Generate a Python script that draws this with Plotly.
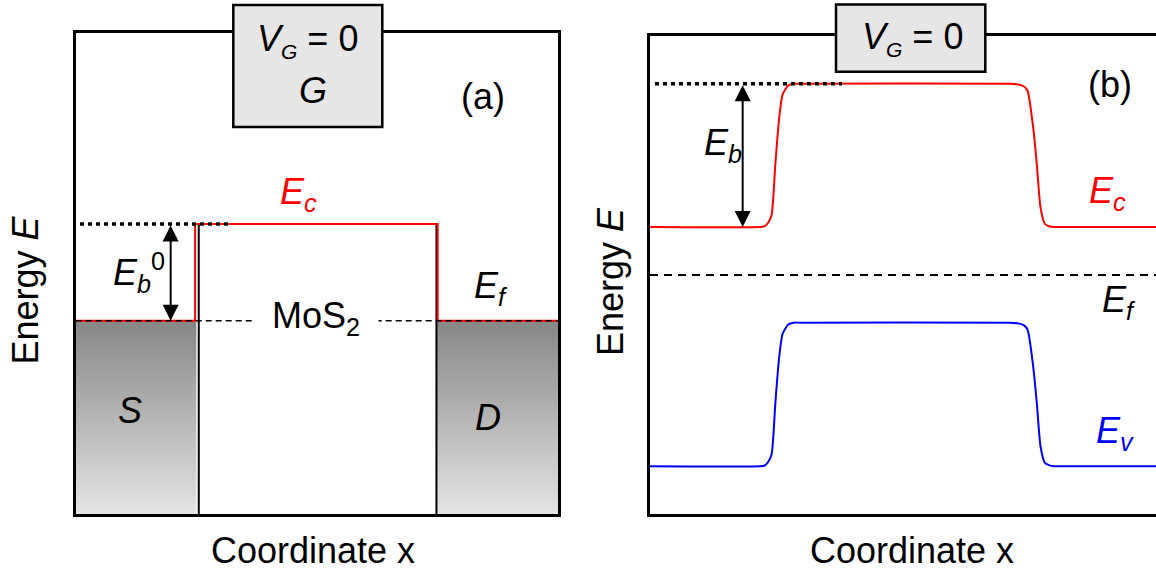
import plotly.graph_objects as go

# ---------------- data ----------------
# Panel (a): ideal abrupt contacts, V_G = 0 (energies in units of Eb0)
x_a_Ec = [0.0, 0.99, 0.99, 3.0, 3.0, 4.0]
Ec_a = [0.0, 0.0, 1.0, 1.0, 0.0, 0.0]
Ef_a = 0.0
Eb0 = 1.0
x_S = [0.0, 1.0]
x_D = [2.99, 4.0]
x_walls = [1.02, 2.99]

# Panel (b): smooth band profile, V_G = 0
x_b = [0, 0.912, 0.947, 0.978, 1.008, 1.039, 1.069, 1.099, 1.146, 1.191, 1.243,
       2.984, 3.054, 3.100, 3.130, 3.176, 3.206, 3.237, 3.273, 3.307, 3.344, 3.398, 4.194]
Ec_b = [0.335, 0.335, 0.339, 0.363, 0.419, 0.775, 1.082, 1.259, 1.323, 1.335, 1.335,
        1.335, 1.330, 1.316, 1.285, 1.030, 0.775, 0.470, 0.356, 0.340, 0.335, 0.335, 0.335]
Ev_b = [-1.336, -1.336, -1.332, -1.308, -1.252, -0.895, -0.588, -0.411, -0.346, -0.333, -0.333,
        -0.333, -0.338, -0.352, -0.383, -0.638, -0.893, -1.198, -1.312, -1.328, -1.336, -1.336, -1.336]
Ef_b = 0.0

# ---------------- layout helpers ----------------
W, H = 1156, 571
FONT = "Liberation Sans, Arial, sans-serif"


def px(x):
    return x / W


def py(y):
    return 1 - y / H


ya_min, ya_max = -2.0, 2.98
xa_min, xa_max = 0.0, 4.0
yb_min, yb_max = -1.667, 1.671
xb_min, xb_max = 0.0, 4.194

fig = go.Figure()

# ---- panel (a) ----
grad = dict(type="vertical", colorscale=[[0, "#e4e4e4"], [1, "#868686"]])
for xs in (x_S, x_D):
    fig.add_trace(go.Scatter(
        x=[xs[0], xs[1], xs[1], xs[0], xs[0]],
        y=[ya_min, ya_min, Ef_a, Ef_a, ya_min],
        fill="toself", fillgradient=grad, mode="lines",
        line=dict(width=0), xaxis="x", yaxis="y", hoverinfo="skip"))

# channel walls
for xw in x_walls:
    fig.add_trace(go.Scatter(x=[xw, xw], y=[ya_min, Eb0], mode="lines",
                             line=dict(color="black", width=2), xaxis="x", yaxis="y"))

# conduction band
fig.add_trace(go.Scatter(x=x_a_Ec, y=Ec_a, mode="lines",
                         line=dict(color="#ff0000", width=2), xaxis="x", yaxis="y"))
# Fermi level
fig.add_trace(go.Scatter(x=[xa_min, xa_max], y=[Ef_a, Ef_a], mode="lines",
                         line=dict(color="black", width=1.5, dash="6px,4px"),
                         xaxis="x", yaxis="y"))
# barrier reference dotted line
fig.add_trace(go.Scatter(x=[0.036, 1.263], y=[Eb0, Eb0], mode="lines",
                         line=dict(color="black", width=3.5, dash="4px,4px"),
                         xaxis="x", yaxis="y"))

# ---- panel (b) ----
fig.add_trace(go.Scatter(x=[xb_min, xb_max], y=[Ef_b, Ef_b], mode="lines",
                         line=dict(color="black", width=2, dash="8px,6px"),
                         xaxis="x2", yaxis="y2"))
fig.add_trace(go.Scatter(x=x_b, y=Ec_b, mode="lines",
                         line=dict(color="#ff0000", width=2, shape="spline", smoothing=0.6),
                         xaxis="x2", yaxis="y2"))
fig.add_trace(go.Scatter(x=x_b, y=Ev_b, mode="lines",
                         line=dict(color="#0000ff", width=2, shape="spline", smoothing=0.6),
                         xaxis="x2", yaxis="y2"))
fig.add_trace(go.Scatter(x=[0.041, 1.591], y=[max(Ec_b), max(Ec_b)], mode="lines",
                         line=dict(color="black", width=3.5, dash="4px,4px"),
                         xaxis="x2", yaxis="y2"))

axis_common = dict(showticklabels=False, showgrid=False, zeroline=False, ticks="",
                   showline=True, linecolor="black", linewidth=2.5)

fig.update_layout(
    width=W, height=H, margin=dict(l=0, r=0, t=0, b=0),
    paper_bgcolor="white", plot_bgcolor="white", showlegend=False,
    font=dict(family=FONT, size=36, color="black"),
    xaxis=dict(domain=[px(75.7), px(558.3)], range=[xa_min, xa_max], mirror=True, **axis_common),
    yaxis=dict(domain=[py(514), py(32.7)], range=[ya_min, ya_max], mirror=True, **axis_common),
    xaxis2=dict(domain=[px(650), 1.0], range=[xb_min, xb_max], mirror=True, anchor="y2", **axis_common),
    yaxis2=dict(domain=[py(513.7), py(35.7)], range=[yb_min, yb_max], mirror=False, anchor="x2", **axis_common),
)

# gate boxes
shapes = []
for (x0, x1, y0, y1) in [(233.3, 382.3, 5, 127), (836, 985.3, 4.4, 71.8)]:
    shapes.append(dict(type="rect", xref="paper", yref="paper",
                       x0=px(x0), x1=px(x1), y0=py(y1), y1=py(y0),
                       fillcolor="#e6e6e6", line=dict(color="black", width=2.5), layer="above"))
fig.update_layout(shapes=shapes)

ann = []


def label(text, x, y, color="black", size=36, xanchor="center", **kw):
    ann.append(dict(text=text, x=px(x), y=py(y), xref="paper", yref="paper",
                    showarrow=False, xanchor=xanchor, yanchor="middle",
                    font=dict(family=FONT, size=size, color=color), **kw))


SUBG = '<sub><span style="font-size:21px"><i>G</i></span></sub>'

# panel (a) labels
label("<i>V</i>" + SUBG + " = 0", 307, 40)
label("<i>G</i>", 313, 90)
label("(a)", 483, 97)
label("<i>E</i><sub><i>c</i></sub>", 298, 194, color="#ff0000")
label("<i>E</i><sub><i>b</i></sub><sup>0</sup>", 111, 272, xanchor="left")
label("<i>E</i><sub><i>f</i></sub>", 472, 288, xanchor="left")
label("MoS<sub>2</sub>", 316, 318, bgcolor="white", borderpad=18)
label("<i>S</i>", 130, 410)
label("<i>D</i>", 488, 417)
label("Energy <i>E</i>", 24.5, 290, textangle=-90)
label("Coordinate x", 313, 550.5)

# panel (b) labels
label("<i>V</i>" + SUBG + " = 0", 912.6, 39)
label("(b)", 1110, 84)
label("<i>E</i><sub><i>b</i></sub>", 701.6, 145, xanchor="left")
label("<i>E</i><sub><i>c</i></sub>", 1086.6, 193, color="#ff0000", xanchor="left")
label("<i>E</i><sub><i>f</i></sub>", 1099.5, 302, xanchor="left")
label("<i>E</i><sub><i>v</i></sub>", 1094, 433, color="#0000ff", xanchor="left")
label("Energy <i>E</i>", 610, 282, textangle=-90)
label("Coordinate x", 911.6, 550.5)

# double arrows (barrier heights)
ann.append(dict(x=0.787, y=Ef_a, ax=0.787, ay=Eb0, xref="x", yref="y", axref="x", ayref="y",
                text="", showarrow=True, arrowhead=2, startarrowhead=2, arrowside="end+start",
                arrowsize=1.6, startarrowsize=1.6, arrowwidth=2, arrowcolor="black"))
ann.append(dict(x=0.768, y=min(Ec_b), ax=0.768, ay=max(Ec_b), xref="x2", yref="y2",
                axref="x2", ayref="y2",
                text="", showarrow=True, arrowhead=2, startarrowhead=2, arrowside="end+start",
                arrowsize=1.6, startarrowsize=1.6, arrowwidth=2, arrowcolor="black"))

fig.update_layout(annotations=ann)

fig.write_html("out.html", config={"displayModeBar": False},
               post_script="document.body.style.margin='0px';document.body.style.overflow='hidden';")
